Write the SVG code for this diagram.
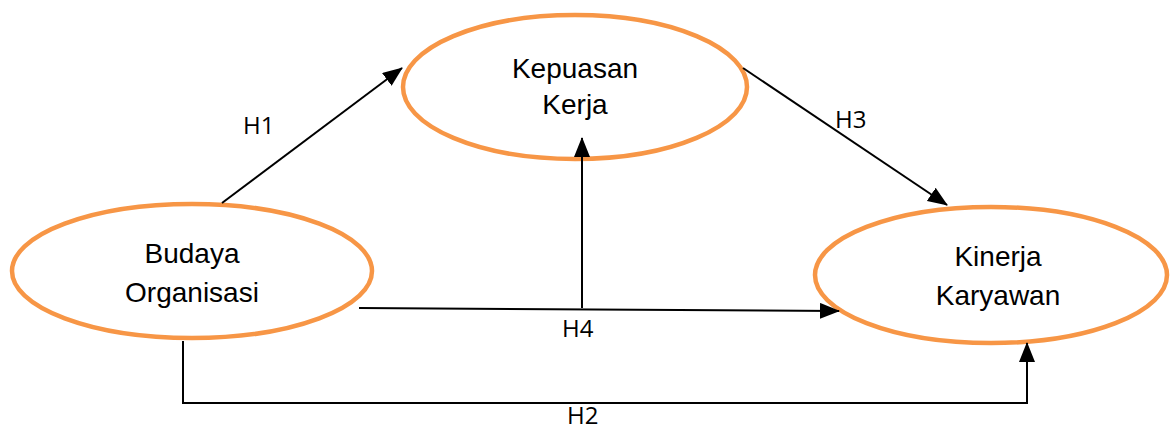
<svg xmlns="http://www.w3.org/2000/svg" width="1170" height="432" viewBox="0 0 1170 432">
  <style>
    .node ellipse { fill: none; stroke: #F79646; stroke-width: 4.5; }
    .node text { font-family: "Liberation Sans", Arial, sans-serif; font-size: 28px; fill: #000000; text-anchor: middle; }
    .edge { fill: none; stroke: #000000; stroke-width: 2; }
    .label { font-family: "Open Sans", "Liberation Sans", sans-serif; font-size: 24px; fill: #000000; }
  </style>
  <defs>
    <marker id="arrow" markerUnits="userSpaceOnUse" markerWidth="20" markerHeight="16" viewBox="0 0 20 16" refX="19" refY="8" orient="auto">
      <path d="M0,0 L20,8 L0,16 Z" fill="#000000"/>
    </marker>
  </defs>

  <rect width="1170" height="432" fill="#ffffff"/>

  <g id="kepuasan-kerja" class="node">
    <ellipse cx="575" cy="87" rx="172" ry="72"/>
    <text x="575" y="78">Kepuasan</text>
    <text x="575" y="114">Kerja</text>
  </g>

  <g id="budaya-organisasi" class="node">
    <ellipse cx="192" cy="271" rx="180" ry="67"/>
    <text x="192" y="263">Budaya</text>
    <text x="192" y="302">Organisasi</text>
  </g>

  <g id="kinerja-karyawan" class="node">
    <ellipse cx="991" cy="275" rx="176" ry="68"/>
    <text x="998" y="266">Kinerja</text>
    <text x="998" y="305">Karyawan</text>
  </g>

  <!-- connectors -->
  <g id="connectors">
    <line class="edge" x1="222" y1="203" x2="402" y2="68" marker-end="url(#arrow)"/>
    <line class="edge" x1="743" y1="68" x2="947" y2="205" marker-end="url(#arrow)"/>
    <line class="edge" x1="359" y1="308" x2="839" y2="311" marker-end="url(#arrow)"/>
    <line class="edge" x1="582" y1="308" x2="582" y2="138" marker-end="url(#arrow)"/>
    <polyline class="edge" points="183,341 183,403 1027,403 1027,343" marker-end="url(#arrow)"/>
    <text class="label" x="243" y="134">H1</text>
    <text class="label" x="835" y="128">H3</text>
    <text class="label" x="562" y="337">H4</text>
    <text class="label" x="567" y="424">H2</text>
  </g>
</svg>
